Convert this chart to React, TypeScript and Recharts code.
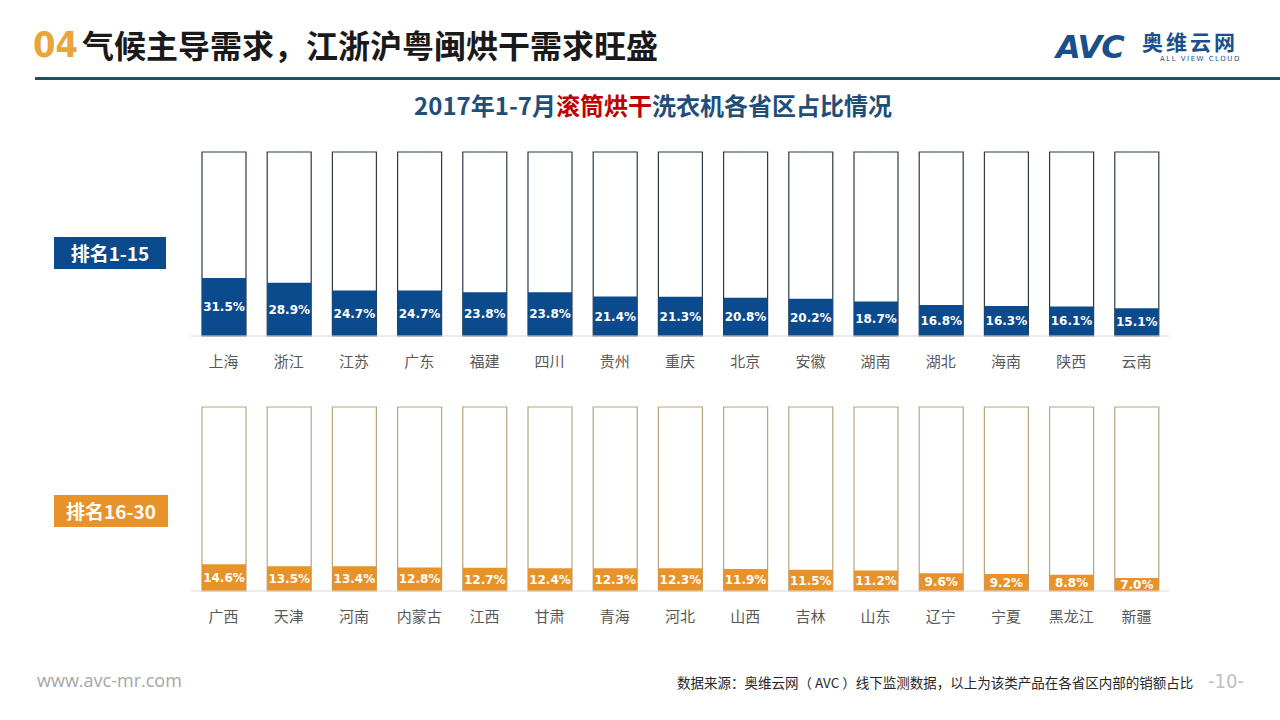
import React from 'react';
import { BarChart, Bar, XAxis, YAxis, LabelList } from 'recharts';

const topProvinces = ['上海', '浙江', '江苏', '广东', '福建', '四川', '贵州', '重庆', '北京', '安徽', '湖南', '湖北', '海南', '陕西', '云南'];
const topValues = [31.5, 28.9, 24.7, 24.7, 23.8, 23.8, 21.4, 21.3, 20.8, 20.2, 18.7, 16.8, 16.3, 16.1, 15.1];
const bottomProvinces = ['广西', '天津', '河南', '内蒙古', '江西', '甘肃', '青海', '河北', '山西', '吉林', '山东', '辽宁', '宁夏', '黑龙江', '新疆'];
const bottomValues = [14.6, 13.5, 13.4, 12.8, 12.7, 12.4, 12.3, 12.3, 11.9, 11.5, 11.2, 9.6, 9.2, 8.8, 7.0];

const topData = topProvinces.map((name, i) => ({ name, value: topValues[i] }));
const bottomData = bottomProvinces.map((name, i) => ({ name, value: bottomValues[i] }));

const CJK = '"Noto Sans CJK SC", "Noto Sans", sans-serif';

function Panel({ data, fill, stroke, top }: { data: any[]; fill: string; stroke: string; top: number }) {
  return (
    <div style={{ position: 'absolute', left: 0, top }}>
      <BarChart width={1280} height={240} data={data} margin={{ top: 12, right: 111, bottom: 14, left: 191 }} barCategoryGap={10}>
        <YAxis hide domain={[0, 100]} />
        <XAxis
          dataKey="name"
          height={30}
          tickLine={false}
          axisLine={{ stroke: '#d9d9d9', strokeWidth: 1 }}
          tickMargin={14}
          tick={{ fill: '#595959', fontSize: 15, fontFamily: CJK }}
          interval={0}
        />
        <Bar
          dataKey="value"
          fill={fill}
          barSize={44}
          isAnimationActive={false}
          background={{ fill: '#ffffff', stroke, strokeWidth: 1.2 }}
        >
          <LabelList
            dataKey="value"
            position="center"
            formatter={(v: any) => `${Number(v).toFixed(1)}%`}
            style={{ fill: '#ffffff', fontSize: 12, fontWeight: 'bold', fontFamily: '"DejaVu Sans", sans-serif' }}
          />
        </Bar>
      </BarChart>
    </div>
  );
}

export default function App() {
  return (
    <div style={{ position: 'fixed', left: 0, top: 0, width: 1280, height: 720, background: '#ffffff', overflow: 'hidden', fontFamily: CJK }}>
      {/* Header */}
      <div style={{ position: 'absolute', left: 33, top: 22, fontSize: 36, fontWeight: 'bold', color: '#e9a43c', fontFamily: '"DejaVu Sans Condensed", "DejaVu Sans", sans-serif', lineHeight: '46px' }}>04</div>
      <div style={{ position: 'absolute', left: 82, top: 21, fontSize: 32, fontWeight: 'bold', color: '#1a1a1a', lineHeight: '46px' }}>气候主导需求，江浙沪粤闽烘干需求旺盛</div>
      <div style={{ position: 'absolute', left: 35, top: 77, width: 1245, height: 3, background: '#1f4e6b' }} />

      {/* Logo */}
      <div style={{ position: 'absolute', left: 1056, top: 27, fontSize: 32, fontWeight: 'bold', fontStyle: 'italic', color: '#1b4f8a', fontFamily: '"DejaVu Sans", sans-serif', lineHeight: '40px', letterSpacing: -1 }}>AVC</div>
      <div style={{ position: 'absolute', left: 1142, top: 31, fontSize: 21, fontWeight: 'bold', color: '#1b4f8a', lineHeight: '21px', letterSpacing: 3 }}>奥维云网</div>
      <div style={{ position: 'absolute', left: 1160, top: 55, fontSize: 7, color: '#1b4f8a', lineHeight: '8px', letterSpacing: 1.5, fontFamily: '"DejaVu Sans", sans-serif' }}>ALL VIEW CLOUD</div>

      {/* Chart title */}
      <div style={{ position: 'absolute', left: 0, width: 1306, top: 89, textAlign: 'center', fontSize: 24, fontWeight: 'bold', color: '#1f4e79', lineHeight: '32px' }}>
        2017年1-7月<span style={{ color: '#c00000' }}>滚筒烘干</span>洗衣机各省区占比情况
      </div>

      {/* Side labels */}
      <div style={{ position: 'absolute', left: 54, top: 237, width: 112, height: 32, background: '#0b4a8c', color: '#ffffff', fontSize: 19, fontWeight: 'bold', lineHeight: '32px', textAlign: 'center' }}>排名1-15</div>
      <div style={{ position: 'absolute', left: 54, top: 495, width: 114, height: 32, background: '#e8922a', color: '#ffffff', fontSize: 19, fontWeight: 'bold', lineHeight: '32px', textAlign: 'center' }}>排名16-30</div>

      <Panel data={topData} fill="#0b4a8c" stroke="#2a3b4a" top={140} />
      <Panel data={bottomData} fill="#e8922a" stroke="#b9a47c" top={395} />

      {/* Footer */}
      <div style={{ position: 'absolute', left: 37, top: 668, fontSize: 18, color: '#a6a6a6', fontFamily: '"Open Sans", sans-serif', lineHeight: '24px' }}>www.avc-mr.com</div>
      <div style={{ position: 'absolute', left: 677, top: 672, fontSize: 13.5, color: '#262626', lineHeight: '20px' }}>数据来源：奥维云网（ AVC ）线下监测数据，以上为该类产品在各省区内部的销额占比</div>
      <div style={{ position: 'absolute', left: 1208, top: 668, fontSize: 20, color: '#c0c0c0', lineHeight: '26px', fontFamily: '"DejaVu Sans Condensed", sans-serif' }}>-10-</div>
    </div>
  );
}
